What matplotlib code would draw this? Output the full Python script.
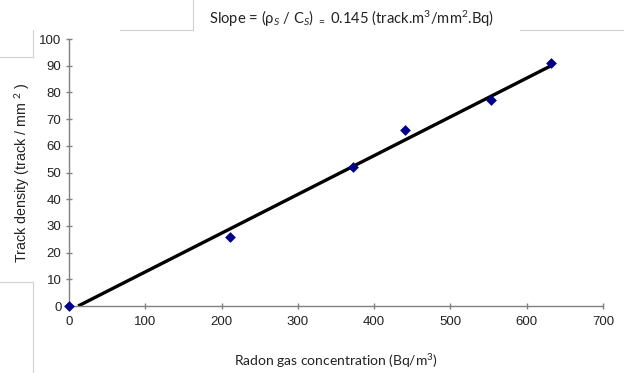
import matplotlib.pyplot as plt
from matplotlib.lines import Line2D

# measured points (Radon concentration vs track density)
radon_conc = [0, 211, 372, 441, 553, 632]
track_density = [0, 26, 52, 66, 77, 91]

# fitted trend line end points
fit_x = [12, 632]
fit_y = [0, 90]

x_ticks = [0, 100, 200, 300, 400, 500, 600, 700]
y_ticks = [0, 10, 20, 30, 40, 50, 60, 70, 80, 90, 100]

plt.rcParams["font.family"] = ["Liberation Sans", "DejaVu Sans"]
plt.rcParams["mathtext.fontset"] = "custom"
plt.rcParams["mathtext.rm"] = "Lato"
plt.rcParams["mathtext.it"] = "Lato:italic"

fig = plt.figure(figsize=(6.24, 3.73), dpi=100)
ax = fig.add_axes([0.1106, 0.1796, 0.8557, 0.7158])

ax.plot(fit_x, fit_y, color="black", linewidth=2.4, solid_capstyle="butt", zorder=2)
ax.scatter(radon_conc, track_density, marker="D", s=30, color="#00008b",
           linewidths=0, zorder=3, clip_on=False)

ax.set_xlim(0, 700)
ax.set_ylim(0, 100)
ax.set_xticks(x_ticks)
ax.set_yticks(y_ticks)
for side in ("top", "right"):
    ax.spines[side].set_visible(False)
for side in ("left", "bottom"):
    ax.spines[side].set_color("#808080")
    ax.spines[side].set_linewidth(1.0)
ax.tick_params(direction="inout", length=5, width=1, color="#808080",
               labelsize=9.5, labelcolor="#222222", pad=3)
ax.tick_params(axis="x", pad=5)

ax.set_xlabel("Radon gas concentration (Bq/m$^3$)", fontsize=10,
              family=["Lato", "DejaVu Sans"], color="#222222", labelpad=17)
ax.set_ylabel("Track density (track / mm $^2$ )", fontsize=10.3,
              color="#222222", labelpad=5)

fig.text(0.563, 0.950,
         "Slope = (ρ$_S$ / C$_S$) $_=$ 0.145 (track.m$^3$/mm$^2$.Bq)",
         ha="center", va="center", fontsize=10.6,
         family=["Lato", "DejaVu Sans"], color="#222222")

# faint text-box outlines around the figure edges
W, H = 624, 373
box_lines = [
    ([120, 193], [30, 30]), ([193, 193], [0, 30]),
    ([520, 624], [30, 30]),
    ([0, 33], [57, 57]), ([33, 33], [30, 57]),
    ([0, 33], [282, 282]), ([33, 33], [282, 373]),
]
for xs, ys in box_lines:
    fig.add_artist(Line2D([x / W for x in xs], [1 - y / H for y in ys],
                          color="#d0d0d0", linewidth=0.8))

fig.savefig("out.png", dpi=100)
